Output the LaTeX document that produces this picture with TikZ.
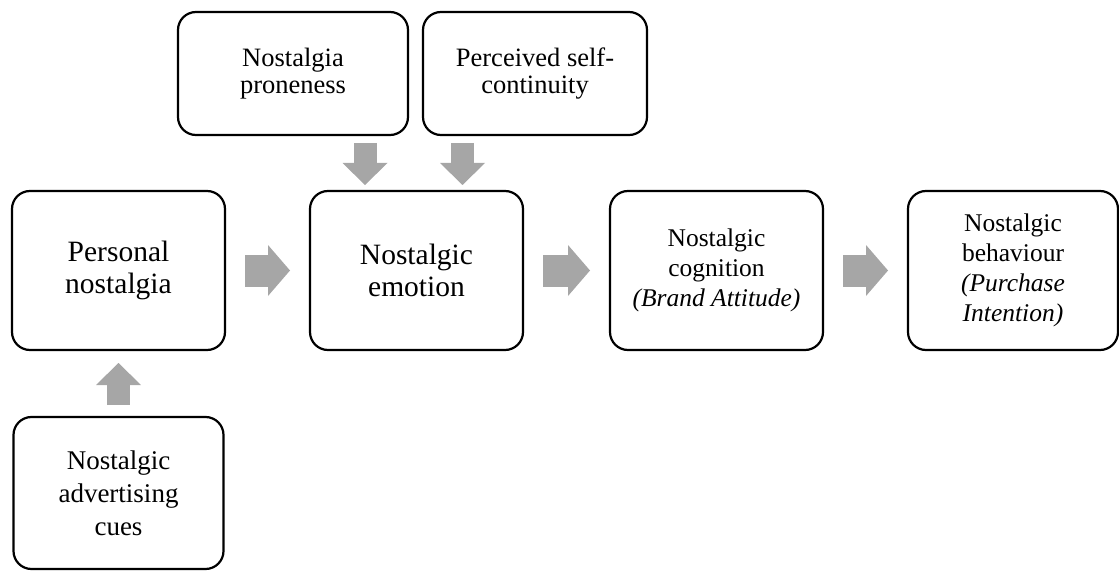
\documentclass[tikz,border=0pt]{standalone}
\usepackage{fontspec}
\setmainfont{Liberation Serif}
\usetikzlibrary{arrows.meta}
\definecolor{arrowgray}{HTML}{A6A6A6}
\tikzset{
  box/.style={draw, line width=2.2pt, rounded corners=18pt, align=center,
    inner sep=0pt, outer sep=0pt, font=\fontsize{25.5}{30}\selectfont},
  bigbox/.style={box, font=\fontsize{29.5}{32}\selectfont},
  topbox/.style={box, font=\fontsize{26.5}{27}\selectfont},
  cuebox/.style={box, font=\fontsize{27}{33}\selectfont},
  wide arrow/.style={draw=arrowgray, line width=32pt,
    -{Triangle[width=51pt,length=22pt,line width=0pt]}},
  slim arrow/.style={draw=arrowgray, line width=23pt,
    -{Triangle[width=45pt,length=22pt,line width=0pt]}}
}
\begin{document}
\begin{tikzpicture}[x=1pt,y=-1pt]
      \useasboundingbox (0,0) rectangle (1119,572);
      % main row
      \node[bigbox, minimum width=213pt, minimum height=159pt] (pers) at (118.5,270.5) {Personal\\nostalgia};
      \node[bigbox, minimum width=213pt, minimum height=159pt] (emo) at (416.5,270.5) {Nostalgic\\emotion};
      \node[box, minimum width=213pt, minimum height=159pt] (cog) at (716.5,270.5) {Nostalgic\\cognition\\\textit{(Brand Attitude)}};
      \node[box, minimum width=210pt, minimum height=159pt] (beh) at (1013,270.5) {Nostalgic\\behaviour\\\textit{(Purchase}\\\textit{Intention)}};
      % moderators and antecedent
      \node[topbox, minimum width=230pt, minimum height=123pt] (prone) at (293,73.5) {Nostalgia\\proneness};
      \node[topbox, minimum width=224pt, minimum height=123pt] (self) at (535,73.5) {Perceived self-\\continuity};
      \node[cuebox, minimum width=210pt, minimum height=152pt] (cues) at (118.5,493) {Nostalgic\\advertising\\cues};
      \begin{scope}[wide arrow]
        \draw ([xshift=20pt]pers.east) to ([xshift=-20pt]emo.west);
        \draw ([xshift=20pt]emo.east) to ([xshift=-20pt]cog.west);
        \draw ([xshift=20pt]cog.east) to ([xshift=-20pt]beh.west);
      \end{scope}
      \begin{scope}[slim arrow]
        \draw ([yshift=12pt]cues.north) to ([yshift=-13pt]pers.south);
        \draw ([xshift=-51.5pt,yshift=48pt]emo.north) to ([xshift=-51.5pt,yshift=6pt]emo.north);
        \draw ([xshift=46pt,yshift=48pt]emo.north) to ([xshift=46pt,yshift=6pt]emo.north);
      \end{scope}
    \end{tikzpicture}
\end{document}
